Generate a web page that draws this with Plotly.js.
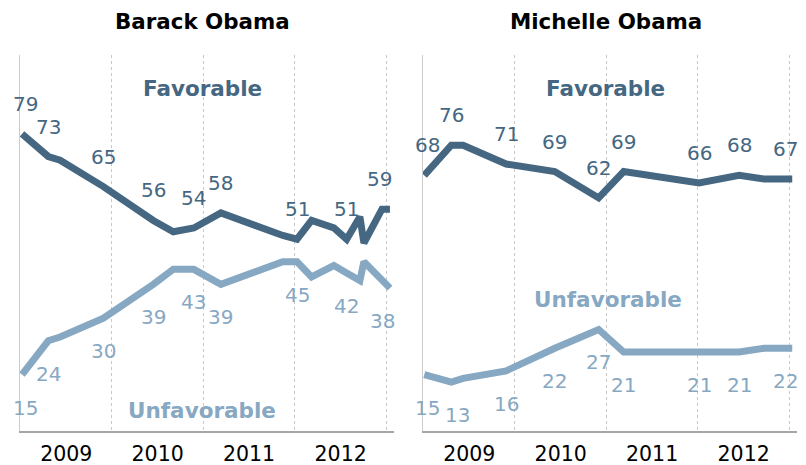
<!DOCTYPE html>
<html><head><meta charset="utf-8">
<script src="https://cdn.plot.ly/plotly-3.0.1.min.js"></script>
<style>html,body{margin:0;padding:0;background:#fff}#chart{width:806px;height:465px}</style>
</head><body><div id="chart"></div>
<script>
// ---- data ----
const panelTitles = ["Barack Obama", "Michelle Obama"];
const seriesNames = ["Favorable", "Unfavorable"];

const barackDates = ["2009-01-07","2009-04-22","2009-06-08","2009-11-28","2010-06-15","2010-09-03","2010-11-24","2011-03-12","2011-11-14","2012-01-10","2012-03-08","2012-06-05","2012-07-26","2012-09-17","2012-10-03","2012-12-14","2013-01-15"];
const barackFav   = [79,73,72,65,56,53,54,58,52,51,56,54,51,57,50,59,59];
const barackUnfav = [15,24,25,30,39,43,43,39,45,45,41,44,42,40,45,40,38];
const barackFavLabelIdx   = [0,1,3,4,6,7,9,12,15];
const barackUnfavLabelIdx = [0,1,3,4,6,7,9,12,16];

const michelleDates = ["2009-01-04","2009-04-22","2009-06-08","2009-11-27","2010-06-09","2010-12-01","2011-03-11","2012-01-06","2012-06-14","2012-09-22","2013-01-12"];
const michelleFav   = [68,76,76,71,69,62,69,66,68,67,67];
const michelleUnfav = [15,13,14,16,22,27,21,21,21,22,22];
const michelleFavLabelIdx   = [0,1,3,4,5,6,7,8,10];
const michelleUnfavLabelIdx = [0,1,3,4,5,6,7,8,10];

// ---- styles ----
const FAV = "#456782", UNF = "#87a8c2";
const FONT = "DejaVu Sans, Verdana, sans-serif";

const panels = [
  {dates: barackDates, fav: barackFav, unf: barackUnfav, favIdx: barackFavLabelIdx, unfIdx: barackUnfavLabelIdx, xa: "x", ya: "y", key: "b"},
  {dates: michelleDates, fav: michelleFav, unf: michelleUnfav, favIdx: michelleFavLabelIdx, unfIdx: michelleUnfavLabelIdx, xa: "x2", ya: "y2", key: "m"}
];
const extraShift = {"m-unf-1": 6, "b-fav-15": -2};

const traces = [];
const annotations = [];
panels.forEach((p, pi) => {
  [["fav", FAV, 30], ["unf", UNF, -33]].forEach(([s, col, ys], si) => {
    traces.push({
      type: "scatter", mode: "lines", x: p.dates, y: p[s], xaxis: p.xa, yaxis: p.ya,
      line: {color: col, width: 7, shape: "linear"}, hoverinfo: "skip", showlegend: false,
      name: seriesNames[si]
    });
    const idx = s === "fav" ? p.favIdx : p.unfIdx;
    idx.forEach(i => {
      let xs = 0;
      if (i === 0) xs = 3;
      if (i === p.dates.length - 1) xs = -7;
      const k = p.key + "-" + s + "-" + i;
      if (extraShift[k] !== undefined) xs = extraShift[k];
      annotations.push({
        xref: p.xa, yref: p.ya, x: p.dates[i], y: p[s][i], text: String(p[s][i]),
        showarrow: false, xshift: xs, yshift: ys,
        font: {family: FONT, size: 20, color: col}
      });
    });
  });
  annotations.push({
    xref: p.xa + " domain", yref: "paper", x: 0.489, y: 1.09, yanchor: "middle",
    text: "<b>" + panelTitles[pi] + "</b>", showarrow: false,
    font: {family: FONT, size: 21.4, color: "#000"}
  });
});
// series name labels
const SL = 21.5;
annotations.push({xref: "x domain", yref: "y", x: 0.489, y: 91, text: "<b>" + seriesNames[0] + "</b>", showarrow: false, font: {family: FONT, size: SL, color: FAV}});
annotations.push({xref: "x domain", yref: "y", x: 0.486, y: 5.5, text: "<b>" + seriesNames[1] + "</b>", showarrow: false, font: {family: FONT, size: SL, color: UNF}});
annotations.push({xref: "x2 domain", yref: "y2", x: 0.489, y: 91, text: "<b>" + seriesNames[0] + "</b>", showarrow: false, font: {family: FONT, size: SL, color: FAV}});
annotations.push({xref: "x2 domain", yref: "y2", x: 0.495, y: 35, text: "<b>" + seriesNames[1] + "</b>", showarrow: false, font: {family: FONT, size: SL, color: UNF}});

function xaxisDef(domain) {
  return {
    domain: domain, type: "date", range: ["2008-12-30", "2013-01-31"],
    tick0: "2009-01-01", dtick: "M12", ticklabelmode: "period", tickformat: "%Y",
    showgrid: true, gridcolor: "#c8c8c8", gridwidth: 1, griddash: "3px,3px",
    showline: true, linecolor: "#a6a6a6", linewidth: 2, ticks: "", zeroline: false,
    ticklabelstandoff: 3,
    tickfont: {family: FONT, size: 20.5, color: "#000"}, fixedrange: true
  };
}
function yaxisDef(anchor) {
  return {
    domain: [0, 1], range: [0, 100], anchor: anchor, showgrid: false, showticklabels: false,
    zeroline: false, showline: true, linecolor: "#cccccc", linewidth: 1, ticks: "", fixedrange: true
  };
}

const layout = {
  width: 806, height: 465, paper_bgcolor: "#fff", plot_bgcolor: "#fff",
  margin: {l: 20, r: 9, t: 55, b: 34},
  xaxis: Object.assign(xaxisDef([0, 0.4813]), {anchor: "y"}),
  yaxis: yaxisDef("x"),
  xaxis2: Object.assign(xaxisDef([0.5187, 1]), {anchor: "y2"}),
  yaxis2: yaxisDef("x2"),
  annotations: annotations, showlegend: false
};
Plotly.newPlot("chart", traces, layout, {displayModeBar: false, staticPlot: true});
</script></body></html>
